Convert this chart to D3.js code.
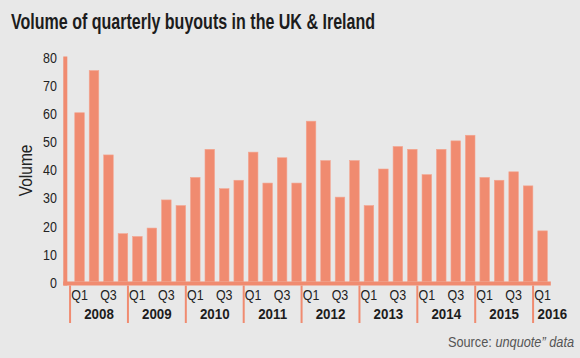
<!DOCTYPE html>
<html>
<head>
<meta charset="utf-8">
<script src="https://cdn.jsdelivr.net/npm/d3@7"></script>
<style>
  html, body { margin: 0; padding: 0; background: #E8E8E8; }
  svg { display: block; }
</style>
</head>
<body>
<script>
// ---- data ----
const years = ["2008","2009","2010","2011","2012","2013","2014","2015","2016"];
const quarters = ["Q1","Q2","Q3","Q4"];
const volumes = [
  60, 75, 45, 17,   // 2008
  16, 19, 29, 27,   // 2009
  37, 47, 33, 36,   // 2010
  46, 35, 44, 35,   // 2011
  57, 43, 30, 43,   // 2012
  27, 40, 48, 47,   // 2013
  38, 47, 50, 52,   // 2014
  37, 36, 39, 34,   // 2015
  18                // 2016
];
const yTicks = [0, 10, 20, 30, 40, 50, 60, 70, 80];
const titleText = "Volume of quarterly buyouts in the UK & Ireland";
const yAxisTitle = "Volume";

const data = volumes.map((v, i) => ({
  key: years[Math.floor(i / 4)] + "-" + quarters[i % 4],
  year: years[Math.floor(i / 4)],
  q: quarters[i % 4],
  value: v
}));

const W = 580, H = 358;
const barColor = "#F08B70";
const font = "'Liberation Sans', Arial, sans-serif";

const svg = d3.select("body").append("svg")
  .attr("width", W).attr("height", H);

svg.append("rect").attr("width", W).attr("height", H).attr("fill", "#E8E8E8");

// condensed label helper: position via transform, squeeze horizontally
function label(parent, px, py, txt, o) {
  const t = parent.append("text")
    .attr("transform", `translate(${px},${py}) scale(${o.sx || 0.82},1)`)
    .attr("text-anchor", o.anchor || "start")
    .attr("font-family", font)
    .attr("font-size", o.size)
    .attr("font-weight", o.weight || "normal")
    .attr("fill", o.fill || "#222");
  if (o.dy) t.attr("dy", o.dy);
  t.text(txt);
  return t;
}

// title
svg.append("text")
  .attr("x", 11).attr("y", 29)
  .attr("font-family", font)
  .attr("font-weight", "bold")
  .attr("font-size", 22.5)
  .attr("fill", "#1c1c1c")
  .attr("textLength", 364)
  .attr("lengthAdjust", "spacingAndGlyphs")
  .text(titleText);

// scales
const x = d3.scaleBand()
  .domain(data.map(d => d.key))
  .range([72.3, 549.8])
  .paddingInner(0.34)
  .paddingOuter(0.17);

const y = d3.scaleLinear().domain([0, 80]).range([281.5, 56.5]);

// y tick labels
const yLab = svg.append("g");
yTicks.forEach(v => label(yLab, 57, y(v) + 1.2, String(v), {size: 14.5, sx: 0.86, anchor: "end", dy: "0.35em"}));

// y axis title
label(svg.append("g").attr("transform", `translate(31.5,${y(39.5)}) rotate(-90)`),
  0, 0, yAxisTitle, {size: 18.5, sx: 0.84, anchor: "middle"});

// bars
svg.append("g").selectAll("rect")
  .data(data).join("rect")
  .attr("x", d => x(d.key))
  .attr("y", d => y(d.value))
  .attr("width", x.bandwidth())
  .attr("height", d => y(0) - y(d.value))
  .attr("fill", barColor)
  .attr("stroke", "#F4A590")
  .attr("stroke-width", 0.6);

// left vertical axis line (salmon)
const x0 = x.range()[0];
svg.append("line")
  .attr("x1", x0 - 7).attr("x2", x0 - 7)
  .attr("y1", y(80)).attr("y2", y(0) + 4)
  .attr("stroke", barColor).attr("stroke-width", 4);

// baseline band
svg.append("line")
  .attr("x1", x0 - 9).attr("x2", x.range()[1] + 1)
  .attr("y1", y(0) + 2).attr("y2", y(0) + 2)
  .attr("stroke", barColor).attr("stroke-width", 4);

// quarter labels (Q1 and Q3)
const qLab = svg.append("g");
data.filter(d => d.q === "Q1" || d.q === "Q3").forEach(d =>
  label(qLab, x(d.key) + x.bandwidth() / 2, 300, d.q, {size: 14.5, sx: 0.86, anchor: "middle"}));

// year separators
const sepOffset = 4.7;
svg.append("g").selectAll("line")
  .data(years).join("line")
  .attr("x1", yr => x(yr + "-Q1") - sepOffset)
  .attr("x2", yr => x(yr + "-Q1") - sepOffset)
  .attr("y1", y(0) + 4).attr("y2", 323)
  .attr("stroke", barColor).attr("stroke-width", 2);

// year labels
const yrLab = svg.append("g");
years.forEach(yr => {
  const qs = data.filter(d => d.year === yr);
  const opts = {size: 15.5, weight: "bold", sx: 0.86, fill: "#1c1c1c"};
  if (qs.length < 4) {
    label(yrLab, x(yr + "-Q1") - sepOffset + 4.5, 318.5, yr, {...opts, anchor: "start"});
  } else {
    const a = x(qs[0].key) - sepOffset;
    const b = x(qs[3].key) + x.step() - sepOffset;
    label(yrLab, (a + b) / 2, 318.5, yr, {...opts, anchor: "middle"});
  }
});

// source
const src = svg.append("text")
  .attr("transform", "translate(574,347) scale(0.85,1)")
  .attr("text-anchor", "end")
  .attr("font-family", font)
  .attr("font-size", 15)
  .attr("fill", "#555");
src.append("tspan").text("Source: ");
src.append("tspan").attr("font-style", "italic").text("unquote\u201D data");
</script>
</body>
</html>
